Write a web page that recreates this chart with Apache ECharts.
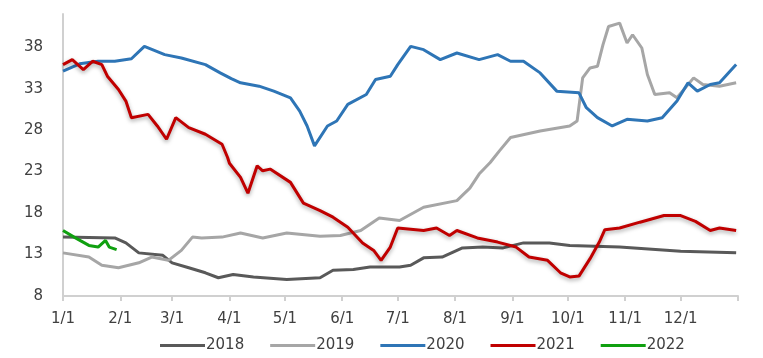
<!DOCTYPE html>
<html><head><meta charset="utf-8">
<script src="https://cdn.jsdelivr.net/npm/echarts@6/dist/echarts.min.js"></script>
<style>html,body{margin:0;padding:0;background:#fff}#c{width:763px;height:358px}</style>
</head><body><div id="c"></div>
<script>
// day of year (0 = Jan 1) and values per series
const monthStarts = [0,31,59,90,120,151,181,212,243,273,304,334];
const monthLabels = ['1/1','2/1','3/1','4/1','5/1','6/1','7/1','8/1','9/1','10/1','11/1','12/1'];
const yTicks = [8,13,18,23,28,33,38];

const d2018 = [0,28,34,41,54,59,68,77,84,92,103,121,139,146,157,166,182,188,195,205,216,227,238,249,263,274,301,334,364];
const v2018 = [15.1,15.0,14.4,13.2,12.9,12.0,11.4,10.8,10.2,10.6,10.3,10.0,10.2,11.1,11.2,11.5,11.5,11.7,12.6,12.7,13.8,13.9,13.8,14.4,14.4,14.1,13.9,13.4,13.2];

const d2019 = [0,14,21,30,41,48,57,64,70,75,86,96,108,121,139,150,161,171,182,195,213,220,225,231,236,242,258,274,278,281,285,289,292,295,301,305,308,313,316,320,328,332,341,346,355,364];
const v2019 = [13.2,12.7,11.7,11.4,12.0,12.7,12.3,13.5,15.1,15.0,15.1,15.6,15.0,15.6,15.2,15.3,15.9,17.4,17.1,18.7,19.5,21.0,22.7,24.1,25.5,27.1,27.9,28.5,29.1,34.3,35.5,35.7,38.3,40.5,40.9,38.5,39.5,37.9,34.7,32.3,32.5,31.9,34.3,33.5,33.3,33.7];

const d2020 = [0,9,19,28,37,44,55,64,77,85,91,96,106,114,123,128,132,136,143,148,154,164,169,177,181,188,195,204,213,225,235,242,249,258,267,279,283,289,297,305,316,324,332,338,343,350,355,364];
const v2020 = [35.1,36.0,36.3,36.3,36.6,38.1,37.1,36.7,35.9,34.9,34.2,33.7,33.3,32.7,31.9,30.3,28.5,26.1,28.5,29.1,31.1,32.3,34.1,34.5,35.9,38.1,37.7,36.5,37.3,36.5,37.1,36.3,36.3,34.9,32.7,32.5,30.7,29.5,28.5,29.3,29.1,29.5,31.5,33.7,32.7,33.5,33.7,35.9];

const d2021 = [0,5,11,16,21,24,30,34,37,46,51,56,61,68,77,86,89,90,96,100,105,108,112,123,130,139,146,154,162,168,172,177,181,182,195,202,209,213,224,235,245,252,262,269,274,279,285,290,293,301,312,325,334,342,350,355,364];
const v2021 = [35.9,36.5,35.3,36.3,35.9,34.5,32.9,31.5,29.5,29.9,28.5,26.9,29.5,28.3,27.5,26.3,24.7,24.0,22.3,20.4,23.7,23.1,23.3,21.7,19.2,18.3,17.5,16.3,14.4,13.5,12.3,13.9,16.2,16.4,15.9,16.2,15.3,15.9,15.0,14.5,13.9,12.7,12.3,10.8,10.3,10.4,12.5,14.5,16.0,16.2,16.9,17.7,17.7,17.0,15.9,16.2,15.9];

const d2022 = [0,1,6,14,19,23,25,29];
const v2022 = [15.9,16.0,15.1,14.1,13.9,14.7,13.9,13.6];

const pairs = (d, v) => d.map((x, i) => [x, v[i]]);

const mk = (name, d, v, color, extra) => Object.assign({
  name, type: 'line', data: pairs(d, v), showSymbol: false, smooth: false,
  lineStyle: { color, width: 3 }, itemStyle: { color }
}, extra || {});

const chart = echarts.init(document.getElementById('c'));
chart.setOption({
  animation: false,
  grid: { left: 63, right: 25, top: 14, bottom: 62 },
  xAxis: {
    type: 'value', min: 0, max: 365,
    axisLine: { show: true, lineStyle: { color: '#d0d0d0', width: 2 } },
    axisTick: { show: true, customValues: monthStarts.concat([365]), length: 5, lineStyle: { color: '#d0d0d0', width: 2 } },
    axisLabel: {
      customValues: monthStarts,
      formatter: v => monthLabels[monthStarts.indexOf(v)],
      color: '#404040', fontSize: 15, fontFamily: 'DejaVu Sans', margin: 16
    },
    splitLine: { show: false }
  },
  yAxis: {
    type: 'value', min: 8, max: 42, interval: 5,
    axisLine: { show: true, lineStyle: { color: '#d0d0d0', width: 2 } },
    axisTick: { show: false },
    axisLabel: { showMaxLabel: false, color: '#404040', fontSize: 15, fontFamily: 'DejaVu Sans', margin: 20 },
    splitLine: { show: false }
  },
  legend: {
    bottom: 0, left: 155, icon: 'rect', itemWidth: 45, itemHeight: 3, itemGap: 26,
    textStyle: { color: '#404040', fontSize: 15, fontFamily: 'DejaVu Sans', padding: [0,0,0,-4] },
    data: ['2018','2019','2020','2021','2022']
  },
  series: [
    mk('2018', d2018, v2018, '#595959'),
    mk('2019', d2019, v2019, '#a6a6a6'),
    mk('2020', d2020, v2020, '#2e75b6'),
    mk('2021', d2021, v2021, '#c00000', { lineStyle: { color: '#c00000', width: 3, shadowColor: 'rgba(0,0,0,0.35)', shadowBlur: 4, shadowOffsetY: 2 } }),
    mk('2022', d2022, v2022, '#10a010')
  ]
});
</script></body></html>
